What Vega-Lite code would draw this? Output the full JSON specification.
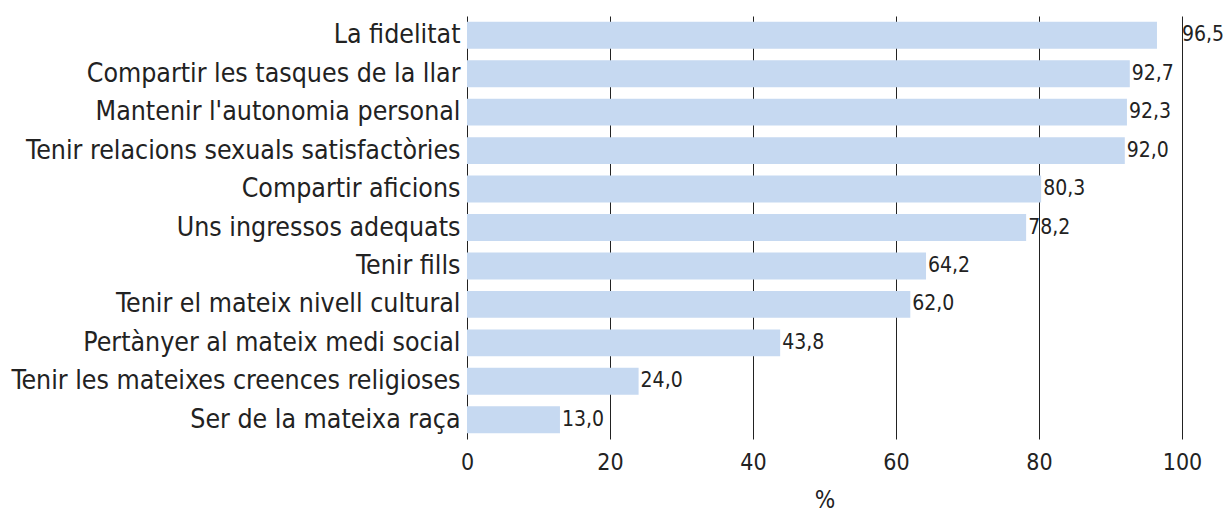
{
  "$schema": "https://vega.github.io/schema/vega-lite/v6.json",
  "autosize": "none",
  "padding": {"left": 467, "top": 16, "right": 42, "bottom": 76},
  "width": 715,
  "height": 423,
  "background": "white",
  "config": {
    "locale": {"number": {"decimal": ",", "thousands": ".", "grouping": [3], "currency": ["", " €"]}},
    "view": {"stroke": null},
    "font": "DejaVu Sans Condensed"
  },
  "data": {
    "values": [
      {"item": "La fidelitat", "value": 96.5},
      {"item": "Compartir les tasques de la llar", "value": 92.7},
      {"item": "Mantenir l'autonomia personal", "value": 92.3},
      {"item": "Tenir relacions sexuals satisfactòries", "value": 92.0},
      {"item": "Compartir aficions", "value": 80.3},
      {"item": "Uns ingressos adequats", "value": 78.2},
      {"item": "Tenir fills", "value": 64.2},
      {"item": "Tenir el mateix nivell cultural", "value": 62.0},
      {"item": "Pertànyer al mateix medi social", "value": 43.8},
      {"item": "Tenir les mateixes creences religioses", "value": 24.0},
      {"item": "Ser de la mateixa raça", "value": 13.0}
    ]
  },
  "encoding": {
    "y": {
      "field": "item", "type": "nominal", "sort": null,
      "scale": {"paddingInner": 0.3, "paddingOuter": 0.15},
      "axis": {"title": null, "domain": false, "ticks": false, "labelPadding": 7, "labelFontSize": 26.5, "labelColor": "#222", "labelLimit": 470}
    }
  },
  "layer": [
    {
      "mark": {"type": "bar", "color": "#c6d9f1"},
      "encoding": {
        "x": {
          "field": "value", "type": "quantitative",
          "scale": {"domain": [0, 100], "nice": false},
          "axis": {"title": "%", "values": [0, 20, 40, 60, 80, 100], "grid": true, "gridColor": "#222", "gridOpacity": 1, "gridWidth": 1, "domain": false, "ticks": false, "labelPadding": 12, "labelFontSize": 23, "labelColor": "#222", "titleFontSize": 24, "titleFontWeight": "normal", "titleColor": "#222", "titlePadding": 14, "labelFlush": false}
        }
      }
    },
    {
      "transform": [{"filter": "datum.value < 95"}],
      "mark": {"type": "text", "align": "left", "baseline": "middle", "dx": 2, "fontSize": 21, "color": "#222"},
      "encoding": {
        "x": {"field": "value", "type": "quantitative"},
        "text": {"field": "value", "type": "quantitative", "format": ".1f"}
      }
    },
    {
      "transform": [{"filter": "datum.value >= 95"}],
      "mark": {"type": "text", "align": "left", "baseline": "middle", "dx": 0, "fontSize": 21, "color": "#222"},
      "encoding": {
        "x": {"datum": 100, "type": "quantitative"},
        "text": {"field": "value", "type": "quantitative", "format": ".1f"}
      }
    }
  ]
}
